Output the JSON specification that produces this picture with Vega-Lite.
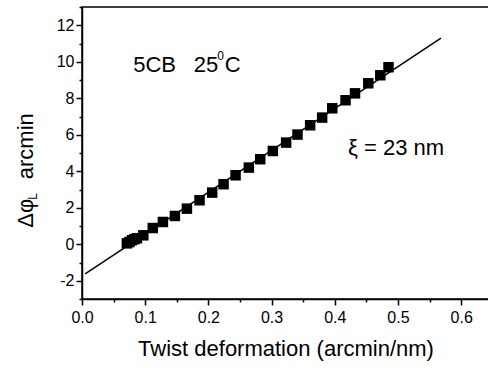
{
  "$schema": "https://vega.github.io/schema/vega-lite/v6.json",
  "width": 407,
  "height": 292,
  "autosize": {"type": "none"},
  "padding": {"left": 82, "top": 7, "right": 0, "bottom": 69},
  "background": "white",
  "config": {
    "view": {"stroke": "black", "strokeWidth": 1.5},
    "font": "Liberation Sans",
    "axis": {"grid": false, "domainColor": "black", "domainWidth": 1.5, "tickColor": "black", "tickWidth": 1.5, "labelColor": "black", "titleColor": "black", "labelFont": "Liberation Sans", "titleFont": "Liberation Sans", "titleFontWeight": "normal"}
  },
  "encoding": {
    "x": {"field": "x", "type": "quantitative",
      "scale": {"domain": [0, 0.644], "nice": false, "zero": false},
      "axis": {"values": [0, 0.05, 0.1, 0.15, 0.2, 0.25, 0.3, 0.35, 0.4, 0.45, 0.5, 0.55, 0.6],
        "labelExpr": "abs(datum.value*10 - round(datum.value*10)) < 0.01 ? format(datum.value, '.1f') : ''",
        "tickSize": {"condition": {"test": "abs(datum.value*10 - round(datum.value*10)) > 0.01", "value": 3}, "value": 6},
        "labelFontSize": 16, "labelPadding": 4, "labelFlush": false,
        "title": "Twist deformation (arcmin/nm)", "titleFontSize": 22, "titlePadding": 13}},
    "y": {"field": "y", "type": "quantitative",
      "scale": {"domain": [-3, 13], "nice": false, "zero": false},
      "axis": {"values": [-3, -2, -1, 0, 1, 2, 3, 4, 5, 6, 7, 8, 9, 10, 11, 12, 13],
        "labelExpr": "(abs(datum.value) % 2 == 0 && datum.value < 13) ? ('' + datum.value) : ''",
        "tickSize": {"condition": {"test": "abs(datum.value) % 2 == 1", "value": 3}, "value": 6},
        "labelFontSize": 16, "labelPadding": 2, "title": null}}
  },
  "layer": [
    {
      "data": {"values": [{"x": 0.005, "y": -1.62}, {"x": 0.568, "y": 11.3}]},
      "mark": {"type": "line", "color": "black", "strokeWidth": 1.5}
    },
    {
      "data": {"values": [
        {"x": 0.071, "y": 0.05}, {"x": 0.075, "y": 0.12}, {"x": 0.079, "y": 0.22}, {"x": 0.083, "y": 0.28},
        {"x": 0.087, "y": 0.33}, {"x": 0.097, "y": 0.49}, {"x": 0.112, "y": 0.89}, {"x": 0.128, "y": 1.22},
        {"x": 0.147, "y": 1.55}, {"x": 0.166, "y": 1.95}, {"x": 0.186, "y": 2.41}, {"x": 0.206, "y": 2.83},
        {"x": 0.224, "y": 3.29}, {"x": 0.243, "y": 3.78}, {"x": 0.264, "y": 4.2}, {"x": 0.282, "y": 4.66},
        {"x": 0.302, "y": 5.11}, {"x": 0.323, "y": 5.57}, {"x": 0.341, "y": 6.01}, {"x": 0.361, "y": 6.52},
        {"x": 0.38, "y": 6.94}, {"x": 0.396, "y": 7.45}, {"x": 0.417, "y": 7.89}, {"x": 0.432, "y": 8.27},
        {"x": 0.453, "y": 8.82}, {"x": 0.472, "y": 9.26}, {"x": 0.485, "y": 9.7}
      ]},
      "mark": {"type": "point", "shape": "square", "filled": true, "color": "black", "opacity": 1, "size": 110}
    },
    {
      "data": {"values": [
        {"x": 0.081, "y": 9.84, "t": "5CB", "s": 22},
        {"x": 0.177, "y": 9.84, "t": "25", "s": 22},
        {"x": 0.214, "y": 10.3, "t": "0", "s": 12},
        {"x": 0.226, "y": 9.84, "t": "C", "s": 22},
        {"x": 0.421, "y": 5.3, "t": "ξ = 23 nm", "s": 22}
      ]},
      "mark": {"type": "text", "align": "left", "baseline": "middle", "color": "black", "font": "Liberation Sans"},
      "encoding": {
        "text": {"field": "t"},
        "size": {"field": "s", "type": "quantitative", "scale": null}
      }
    },
    {
      "data": {"values": [
        {"x": -0.089, "y": 5.37, "t": "arcmin", "s": 22},
        {"x": -0.089, "y": 1.7, "t": "Δφ", "s": 22},
        {"x": -0.077, "y": 2.62, "t": "L", "s": 12}
      ]},
      "mark": {"type": "text", "align": "center", "baseline": "middle", "angle": 270, "color": "black", "font": "Liberation Sans"},
      "encoding": {
        "text": {"field": "t"},
        "size": {"field": "s", "type": "quantitative", "scale": null}
      }
    }
  ]
}
